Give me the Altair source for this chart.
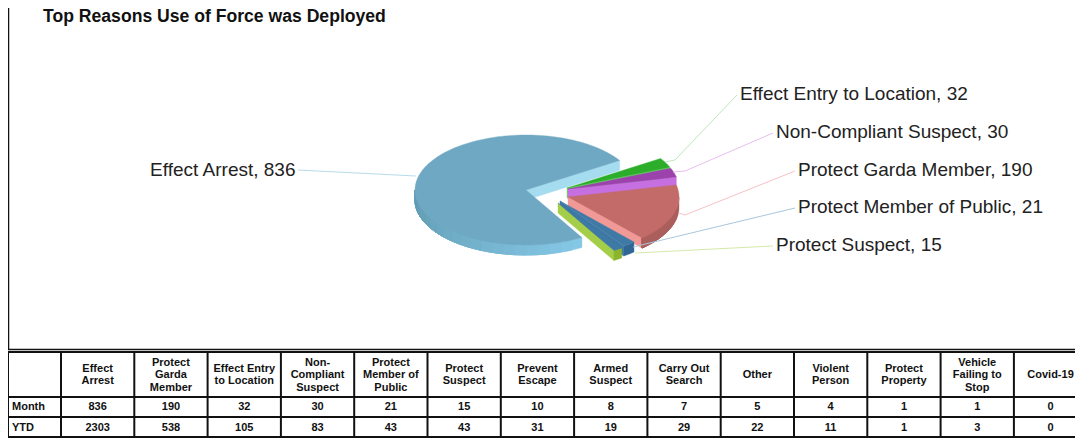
import math
import altair as alt
import pandas as pd

# ---- data ----
slice_names = ["Effect Entry to Location", "Non-Compliant Suspect", "Protect Garda Member",
               "Protect Member of Public", "Protect Suspect", "Effect Arrest"]
slice_values = [32, 30, 190, 21, 15, 836]

columns = ["Effect\nArrest", "Protect\nGarda\nMember", "Effect Entry\nto Location", "Non-\nCompliant\nSuspect",
           "Protect\nMember of\nPublic", "Protect\nSuspect", "Prevent\nEscape", "Armed\nSuspect",
           "Carry Out\nSearch", "Other", "Violent\nPerson", "Protect\nProperty",
           "Vehicle\nFailing to\nStop", "Covid-19"]
month = [836, 190, 32, 30, 21, 15, 10, 8, 7, 5, 4, 1, 1, 0]
ytd = [2303, 538, 105, 83, 43, 43, 31, 19, 29, 22, 11, 1, 3, 0]
row_names = ["Month", "YTD"]
title_text = "Top Reasons Use of Force was Deployed"

# ---- layout & style (page pixels) ----
W, H, M = 1067, 431, 8
RX, RY, DEPTH = 111, 55, 10
START = -32.5
apex = {"Effect Arrest": (526, 190), "Effect Entry to Location": (567, 188), "Non-Compliant Suspect": (568, 189),
        "Protect Garda Member": (568, 197), "Protect Member of Public": (560, 201), "Protect Suspect": (558, 203)}
style = {  # top, cut face, wall start, wall end
    "Effect Arrest": ("#6fa8c3", "#a6dcf0", "#85c8e6", "#5f97ad"),
    "Effect Entry to Location": ("#2cae2a", "#66cf62", "#239a22", "#239a22"),
    "Non-Compliant Suspect": ("#9c42ad", "#c56fe0", "#8a3a9a", "#8a3a9a"),
    "Protect Garda Member": ("#c36b69", "#f09996", "#ab5f5d", "#ab5f5d"),
    "Protect Member of Public": ("#3f7aa7", "#3d78a5", "#2f6694", "#2f6694"),
    "Protect Suspect": ("#3f7aa7", "#a5ce48", "#8cb52d", "#8cb52d"),
}
draw_order = ["Effect Arrest", "Effect Entry to Location", "Non-Compliant Suspect",
              "Protect Garda Member", "Protect Member of Public", "Protect Suspect"]


def mix(c0, c1, f):
    a = [int(c0[i:i + 2], 16) for i in (1, 3, 5)]
    b = [int(c1[i:i + 2], 16) for i in (1, 3, 5)]
    return "#%02x%02x%02x" % tuple(round(x + (y - x) * f) for x, y in zip(a, b))


def pt(c, t):
    r = math.radians(t)
    return (c[0] + RX * math.cos(r), c[1] + RY * math.sin(r))


def feat(points, fill):
    ring = [list(p) for p in points]
    ring.append(ring[0])
    return {"type": "Feature", "geometry": {"type": "Polygon", "coordinates": [ring]}, "properties": {"fill": fill}}


def arc(c, t0, t1):
    n = max(2, int((t1 - t0) / 2))
    return [pt(c, t0 + (t1 - t0) * i / n) for i in range(n + 1)]


total = sum(slice_values)
spans, a = {}, START
for n, v in zip(slice_names, slice_values):
    spans[n] = (a, a + v / total * 360)
    a += v / total * 360

features = []
for n in draw_order:
    c = apex[n]
    a0, a1 = spans[n]
    top, cut, w0, w1 = style[n]
    B = pt(c, (a0 + a1) / 2)
    for t in (a0, a1):
        E = pt(c, t)
        if abs(E[0] - c[0]) < 1e-6:
            continue
        yline = c[1] + (B[0] - c[0]) * (E[1] - c[1]) / (E[0] - c[0])
        if B[1] < yline:
            features.append(feat([c, E, (E[0], E[1] + DEPTH), (c[0], c[1] + DEPTH)], cut))
    lo, hi = max(a0, 0), min(a1, 180)
    if hi > lo:
        steps = max(1, int((hi - lo) / 6))
        for i in range(steps):
            s0 = lo + (hi - lo) * i / steps
            upper = arc(c, s0, hi)
            lower = [(p[0], p[1] + DEPTH) for p in reversed(upper)]
            features.append(feat(upper + lower, mix(w0, w1, i / steps)))
    features.append(feat([c] + arc(c, a0, a1), top))

xs = alt.Scale(domain=[M, M + W], range=[0, W])
ys = alt.Scale(domain=[M, M + H], range=[0, H])
X = lambda f="x": alt.X(f + ":Q", scale=xs, axis=None)
Y = lambda f="y": alt.Y(f + ":Q", scale=ys, axis=None)

pie = alt.Chart(alt.Data(values=features)).mark_geoshape(strokeWidth=0.4).encode(
    color=alt.Color("properties.fill:N", scale=None),
    stroke=alt.Stroke("properties.fill:N", scale=None),
).project(type="identity", scale=1, translate=[-M, -M])

# leader lines
leaders = [
    ("Effect Arrest", "#b7dcea", [(298, 170), (416, 176)]),
    ("Effect Entry to Location", "#bde8bb", [(737, 95), (675, 160), (665, 162)]),
    ("Non-Compliant Suspect", "#e8bdf0", [(773, 133), (685, 171), (673, 172)]),
    ("Protect Garda Member", "#f7c2c6", [(795, 171), (685, 215), (678, 213)]),
    ("Protect Member of Public", "#a9c6da", [(795, 208), (633, 247)]),
    ("Protect Suspect", "#d5e8a8", [(773, 246), (635, 253)]),
]
ldf = pd.DataFrame([{"name": n, "col": col, "i": i, "x": p[0], "y": p[1]}
                    for n, col, pts in leaders for i, p in enumerate(pts)])
lines = alt.Chart(ldf).mark_line(strokeWidth=1).encode(
    x=X(), y=Y(), detail="name:N", order="i:Q", color=alt.Color("col:N", scale=None))

# pie labels
label_pos = {"Effect Arrest": (295.5, 170, "right"), "Effect Entry to Location": (740, 94, "left"),
             "Non-Compliant Suspect": (776, 132, "left"), "Protect Garda Member": (798, 170, "left"),
             "Protect Member of Public": (798, 207, "left"), "Protect Suspect": (776, 245, "left")}
lab = pd.DataFrame([{"t": f"{n}, {v}", "x": label_pos[n][0], "y": label_pos[n][1], "al": label_pos[n][2]}
                    for n, v in zip(slice_names, slice_values)])
labels = [alt.Chart(lab[lab.al == al]).mark_text(align=al, baseline="middle", font="Liberation Sans",
                                                 fontSize=19, color="#222222").encode(x=X(), y=Y(), text="t:N")
          for al in ("left", "right")]

title = alt.Chart(pd.DataFrame({"t": [title_text], "x": [43], "y": [17]})).mark_text(
    align="left", baseline="middle", font="Liberation Sans", fontSize=17.6, fontWeight="bold", color="#111111"
).encode(x=X(), y=Y(), text="t:N")

# table
LH = 12.5
col_edges = [8] + [61 + 73.3 * k for k in range(15)]
row_edges = [352, 397, 417, 437]
col_x = [(col_edges[i + 1] + col_edges[i + 2]) / 2 for i in range(14)]
v = pd.DataFrame({"x": [e for e in col_edges if e < M + W], "y": 352, "y2": 437})
h = pd.DataFrame({"y": row_edges, "x": 8, "x2": M + W})
frame_v = pd.DataFrame({"x": [8.5], "y": [8], "y2": [350]})
frame_h = pd.DataFrame({"y": [349.5], "x": [8], "x2": [M + W]})
rule = lambda d, **k: alt.Chart(d).mark_rule(color="#111111", strokeWidth=k.get("sw", 2))
vr = rule(v).encode(x=X(), y=Y(), y2="y2:Q")
hr = rule(h).encode(x=X(), x2="x2:Q", y=Y())
fv = rule(frame_v, sw=1.5).encode(x=X(), y=Y(), y2="y2:Q")
fh = rule(frame_h, sw=1.5).encode(x=X(), x2="x2:Q", y=Y())

cells = []
for i, cname in enumerate(columns):
    cells.append({"t": cname, "x": col_x[i], "y": 375 - cname.count("\n") * LH / 2})
    cells.append({"t": str(month[i]), "x": col_x[i], "y": 407})
    cells.append({"t": str(ytd[i]), "x": col_x[i], "y": 428})
table_text = alt.Chart(pd.DataFrame(cells)).mark_text(
    align="center", baseline="middle", font="Liberation Sans", fontSize=11, fontWeight="bold",
    lineBreak="\n", lineHeight=LH, color="#111111").encode(x=X(), y=Y(), text="t:N")
rows = alt.Chart(pd.DataFrame({"t": row_names, "x": [12, 12], "y": [407, 428]})).mark_text(
    align="left", baseline="middle", font="Liberation Sans", fontSize=11, fontWeight="bold", color="#111111"
).encode(x=X(), y=Y(), text="t:N")

chart = alt.layer(pie, lines, *labels, title, fv, fh, vr, hr, table_text, rows).properties(
    width=W, height=H, padding=0, autosize=alt.AutoSizeParams(type="none")
).configure_view(stroke=None)

chart.save("out.html", embed_options={"renderer": "svg", "actions": False})
